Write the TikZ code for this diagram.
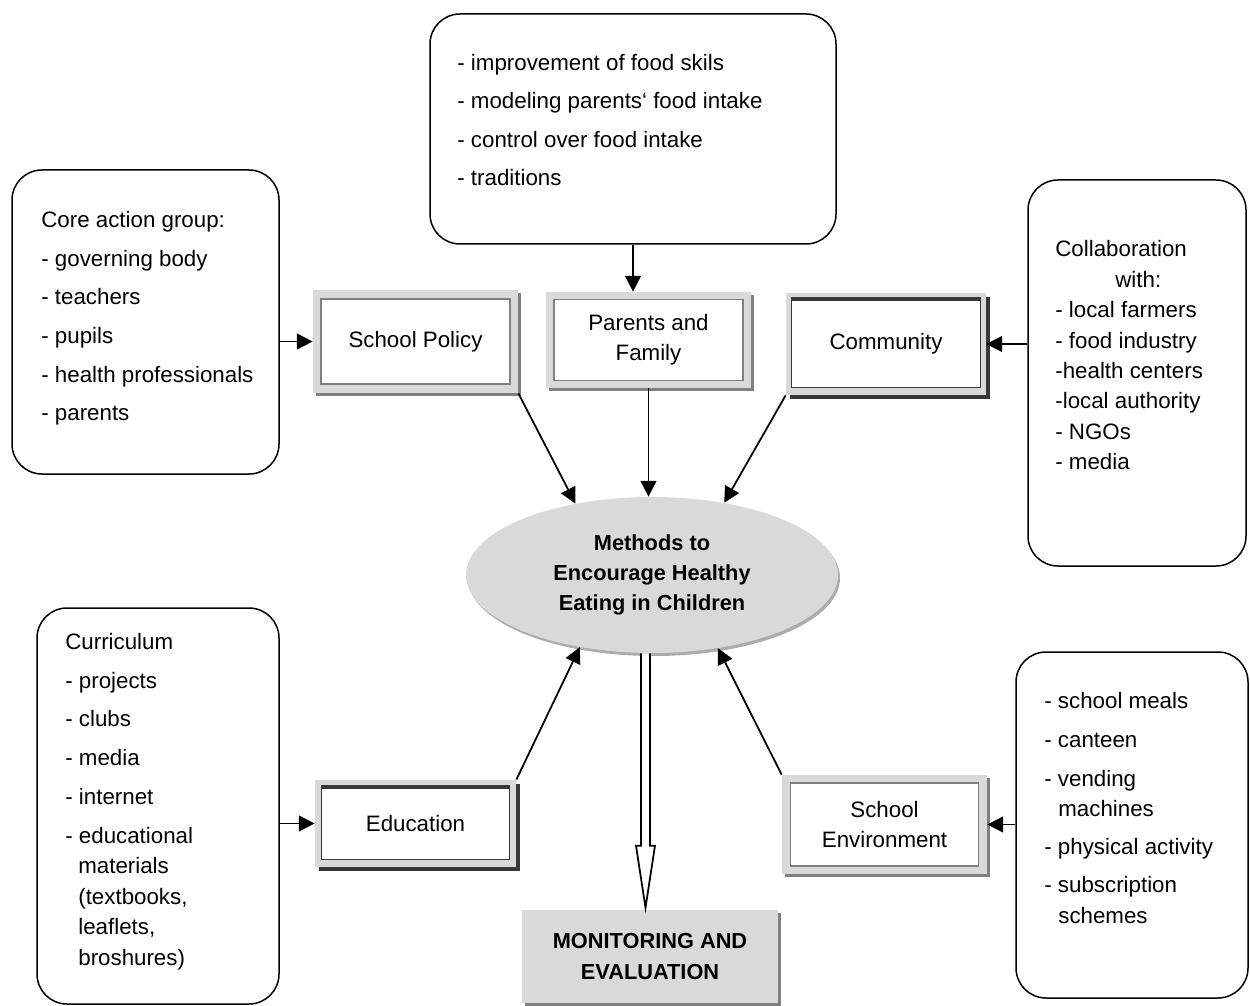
\documentclass[tikz,border=0pt]{standalone}
\usepackage{fontspec}
\setmainfont{Liberation Sans}
\usetikzlibrary{arrows.meta,calc,shapes.geometric,shadows}
\newlength\px \setlength\px{0.02cm}
\definecolor{fg}{HTML}{D9D9D9}
\definecolor{mg}{HTML}{808080}
\definecolor{dg}{HTML}{383838}
\begin{document}
\begin{tikzpicture}[x=1\px, y=-1\px, font=\fontsize{12.7}{15}\selectfont,
  rbox/.style={draw, line width=1.5\px, rounded corners=30\px, inner sep=0pt},
  txt/.style={anchor=mid west, inner sep=0pt},
  frameA/.style={fill=fg, inner sep=0pt, drop shadow={shadow xshift=3\px, shadow yshift=-3\px, fill=mg, opacity=1}},
  frameB/.style={fill=fg, inner sep=0pt, drop shadow={shadow xshift=4\px, shadow yshift=-4\px, fill=dg, opacity=1}},
  innerA/.style={fill=white, draw=mg, line width=1.6\px, inner sep=0pt, align=center, font=\fontsize{12.7}{17}\selectfont},
  innerB/.style={fill=white, draw=dg, line width=1\px, inner sep=0pt, align=center, font=\fontsize{12.7}{17}\selectfont},
  conn/.style={line width=1pt, -{Triangle[length=9pt, width=9pt]}},
  boldtxt/.style={align=center, font=\bfseries\fontsize{12.4}{17.3}\selectfont}]
\useasboundingbox (0,0) rectangle (1250,1006);

% rounded list boxes
\node[rbox, minimum width=406\px, minimum height=230\px] (fam) at (633,129) {};
\node[rbox, minimum width=267\px, minimum height=304\px] (cag) at (145.5,322) {};
\node[rbox, minimum width=218\px, minimum height=386\px] (col) at (1137,373) {};
\node[rbox, minimum width=242\px, minimum height=396\px] (cur) at (158,806) {};
\node[rbox, minimum width=232\px, minimum height=346\px] (env) at (1132,825) {};

% list texts
\foreach \t [count=\i from 0] in {- improvement of food skils, - modeling parents‘ food intake, - control over food intake, - traditions}
  \node[txt] (fam-\i) at (457,{66+\i*38.3}) {\t};
\foreach \t [count=\i from 0] in {Core action group:, - governing body, - teachers, - pupils, - health professionals, - parents}
  \node[txt] (cag-\i) at (41,{223+\i*38.6}) {\t};
\foreach \xx/\yy/\t [count=\i] in {1055/252/Collaboration, 1115/283/with:, 1055/313/- local farmers, 1055/344/- food industry, 1055/374/-health centers, 1055/404/-local authority, 1055/435/- NGOs, 1055/465/- media}
  \node[txt] (col-\i) at (\xx,\yy) {\t};
\foreach \xx/\yy/\t [count=\i] in {65/645/Curriculum, 65/684/- projects, 65/722/- clubs, 65/761/- media, 65/800/- internet, 65/839/- educational, 78/869/materials, 78/900/(textbooks{,}, 78/930/leaflets{,}, 78/961/broshures)}
  \node[txt] (cur-\i) at (\xx,\yy) {\t};
\foreach \xx/\yy/\t [count=\i] in {1044/704/- school meals, 1044/743/- canteen, 1044/782/- vending, 1058/812/machines, 1044/850/- physical activity, 1044/888/- subscription, 1058/919/schemes}
  \node[txt] (env-\i) at (\xx,\yy) {\t};

% bevelled boxes
\node[frameA, minimum width=205\px, minimum height=103\px] (sp) at (415.5,341.5) {};
\node[innerA, minimum width=189\px, minimum height=85\px] (spT) at (sp) {School Policy};

\node[frameA, minimum width=205\px, minimum height=96\px] (pf) at (648.5,340) {};
\node[innerA, minimum width=189\px, minimum height=81\px] (pfT) at (pf) {Parents and\\Family};

\node[frameB, minimum width=200\px, minimum height=102\px] (cm) at (886,344) {};
\node[innerB, minimum width=189\px, minimum height=88\px] (cmT) at (cm) {Community};
\draw[dg, line width=4\px] (cmT.north west) -- (cmT.north east);

\node[frameB, minimum width=201\px, minimum height=87\px] (ed) at (415.5,823.5) {};
\node[innerB, minimum width=188\px, minimum height=72\px] (edT) at (ed) {Education};
\draw[dg, line width=4\px] (edT.north west) -- (edT.north east);

\node[frameA, minimum width=205\px, minimum height=99\px] (se) at (884.5,824.5) {};
\node[innerA, minimum width=188\px, minimum height=83\px] (seT) at (se) {School\\Environment};

% central ellipse
\node[ellipse, fill=fg, minimum width=372\px, minimum height=156\px, inner sep=0pt, boldtxt,
  drop shadow={shadow xshift=2\px, shadow yshift=-3\px, fill=gray!65, opacity=1}] (ell) at (652,575)
  {Methods to\\Encourage Healthy\\Eating in Children};

% monitoring box
\node[fill=fg, minimum width=256\px, minimum height=93\px, inner sep=0pt, boldtxt,
  drop shadow={shadow xshift=3\px, shadow yshift=-3\px, fill=mg, opacity=1}] (mon) at (650,956.5)
  {MONITORING AND\\EVALUATION};

% connectors
\draw[conn] (fam.south) -- (fam.south |- pf.north);
\draw[conn] (cag.east |- sp.west) -- (sp.west);
\draw[conn] (col.west |- cm.east) -- (cm.east);
\draw[conn] (cur.east |- ed.west) -- (ed.west);
\draw[conn] (env.west |- se.east) -- (se.east);
\draw[conn] (sp.south east) -- (ell.137.5);
\draw[conn] (pf.south) -- (pf.south |- ell.north);
\draw[conn] (cm.south west) -- (ell.45);
\draw[conn] (ed.north east) -- (ell.225.5);
\draw[conn] (se.north west) -- (ell.312);

% hollow double arrow
\coordinate (dtop) at ($(ell.south)+(-6.5,0)$);
\coordinate (dtip) at ($(dtop |- mon.north)+(0,-2)$);
\draw[line width=1pt, fill=white, line join=miter]
  ($(dtop)+(-4.5,0)$) -- ($(dtip)+(-4.5,-62)$) -- ($(dtip)+(-9.5,-62)$) -- (dtip)
  -- ($(dtip)+(9.5,-62)$) -- ($(dtip)+(4.5,-62)$) -- ($(dtop)+(4.5,0)$);
\end{tikzpicture}
\end{document}
